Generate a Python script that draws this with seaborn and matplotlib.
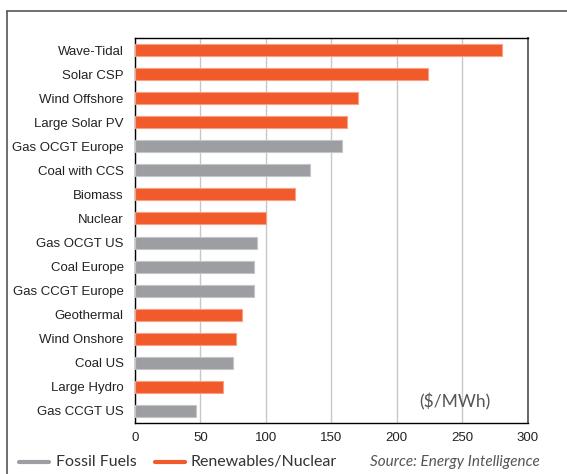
import numpy as np
import pandas as pd
import seaborn as sns
import matplotlib.pyplot as plt
from matplotlib.lines import Line2D
from matplotlib.colors import to_hex

# --- DATOS ---
technologies = ["Wave-Tidal", "Solar CSP", "Wind Offshore", "Large Solar PV",
                "Gas OCGT Europe", "Coal with CCS", "Biomass", "Nuclear",
                "Gas OCGT US", "Coal Europe", "Gas CCGT Europe", "Geothermal",
                "Wind Onshore", "Coal US", "Large Hydro", "Gas CCGT US"]
costs = [280, 224, 170, 162, 158, 134, 122, 100,
         93, 91, 91, 82, 77, 75, 67, 47]
groups = ["Renewables/Nuclear", "Renewables/Nuclear", "Renewables/Nuclear", "Renewables/Nuclear",
          "Fossil Fuels", "Fossil Fuels", "Renewables/Nuclear", "Renewables/Nuclear",
          "Fossil Fuels", "Fossil Fuels", "Fossil Fuels", "Renewables/Nuclear",
          "Renewables/Nuclear", "Fossil Fuels", "Renewables/Nuclear", "Fossil Fuels"]
x_ticks = [0, 50, 100, 150, 200, 250, 300]

colors = {"Fossil Fuels": "#9d9ea2", "Renewables/Nuclear": "#f15a2b"}
edges = {"#9d9ea2": "#c4c5c8", "#f15a2b": "#f7a184"}

df = pd.DataFrame({"tech": technologies, "cost": costs, "group": groups})

sns.set_style("white")
plt.rcParams['font.family'] = ['Liberation Sans', 'DejaVu Sans']

fig = plt.figure(figsize=(5.67, 4.74), dpi=100)
ax = fig.add_axes([0.238, 0.1082, 0.6927, 0.811])

sns.barplot(data=df, x="cost", y="tech", hue="group", palette=colors, saturation=1,
            dodge=False, width=0.5, legend=False, ax=ax, orient="h", zorder=3)

# borde claro alrededor de cada barra
for bar in ax.patches:
    fc = to_hex(bar.get_facecolor())
    bar.set_edgecolor(edges.get(fc, fc))
    bar.set_linewidth(0.8)

ax.set_xlim(0, 300)
ax.set_ylim(len(technologies) - 0.5, -0.5)
ax.set_xticks(x_ticks)
ax.set_xticklabels([str(t) for t in x_ticks], fontsize=9.5, color="#222222")
ax.tick_params(axis="y", which="major", length=0, labelsize=9.5, labelcolor="#222222", pad=8)
ax.set_yticks(np.arange(-0.5, len(technologies), 1), minor=True)
ax.tick_params(axis="y", which="minor", length=4, direction="out", color="black", width=0.8)
ax.tick_params(axis="x", which="major", length=6, direction="inout", color="black", width=0.8, pad=4)
ax.set_xlabel("")
ax.set_ylabel("")

ax.grid(axis="x", color="#c8c8c8", linewidth=1, zorder=0)
ax.set_axisbelow(True)
for s in ax.spines.values():
    s.set_visible(True)
    s.set_color("black")
    s.set_linewidth(1.0)
ax.spines["right"].set_color("#666666")
ax.spines["right"].set_linewidth(1.4)

ax.text(0.815, 0.055, "($/MWh)", transform=ax.transAxes, ha="center", va="center",
        fontsize=12.5, color="#555555", family=["Lato", "DejaVu Sans"], zorder=5)

# marco exterior
fig.add_artist(Line2D([7 / 567, 1.0], [1 - 11 / 474, 1 - 11 / 474], color="#555555", lw=1.2))
fig.add_artist(Line2D([7 / 567, 7 / 567], [0, 1 - 11 / 474], color="#555555", lw=1.2))

# leyenda
ly = 1 - 462 / 474
fig.add_artist(Line2D([19 / 567, 49 / 567], [ly, ly], color=colors["Fossil Fuels"], lw=3))
fig.text(56 / 567, ly, "Fossil Fuels", ha="left", va="center", fontsize=11.5,
         color="#333333", family=["Lato", "DejaVu Sans"])
fig.add_artist(Line2D([155 / 567, 185 / 567], [ly, ly], color=colors["Renewables/Nuclear"], lw=3))
fig.text(190 / 567, ly, "Renewables/Nuclear", ha="left", va="center", fontsize=11.5,
         color="#333333", family=["Lato", "DejaVu Sans"])
fig.text(540 / 567, ly, "Source: Energy Intelligence", ha="right", va="center", fontsize=11,
         color="#555555", style="italic", family=["Lato", "DejaVu Sans"])

fig.savefig("out.png", dpi=100)
